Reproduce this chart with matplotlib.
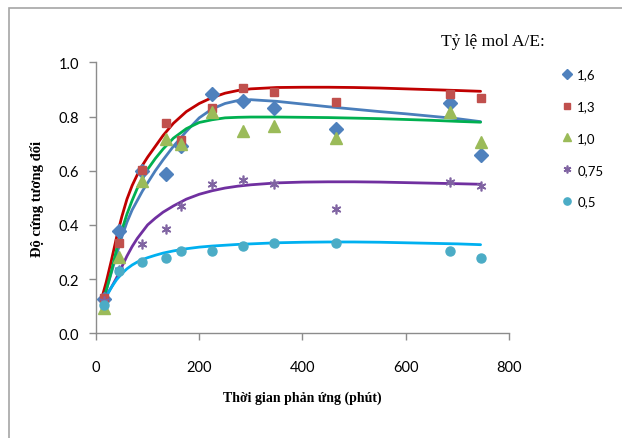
"""
Relative hardness vs reaction time for several A/E mol ratios,
scatter of measurements with smooth fitted curves (Excel style chart).
"""

import matplotlib
matplotlib.use('Agg')
import matplotlib.pyplot as plt
from matplotlib.patches import Rectangle

# --- measured points ---
t_meas = [15, 45, 90, 135, 165, 225, 285, 345, 465, 685, 745]

y_16 = [0.125, 0.379, 0.600, 0.588, 0.692, 0.883, 0.858, 0.830, 0.754, 0.849, 0.658]
y_13 = [0.130, 0.333, 0.604, 0.776, 0.714, 0.830, 0.904, 0.892, 0.855, 0.883, 0.867]
y_10 = [0.095, 0.280, 0.563, 0.717, 0.698, 0.815, 0.748, 0.764, 0.720, 0.815, 0.707]
y_075 = [0.120, 0.235, 0.330, 0.385, 0.471, 0.551, 0.567, 0.551, 0.459, 0.560, 0.542]
y_05 = [0.105, 0.231, 0.262, 0.277, 0.303, 0.303, 0.321, 0.332, 0.332, 0.303, 0.277]

# --- fitted curves ---
t_fit = [12, 20, 30, 40, 50, 60, 70, 80, 90, 100, 115, 130, 150, 175, 200, 225,
         250, 275, 300, 350, 400, 450, 500, 550, 600, 650, 700, 745]

fit_16 = [0.120, 0.160, 0.225, 0.290, 0.355, 0.410, 0.455, 0.490, 0.525, 0.555,
          0.600, 0.640, 0.690, 0.745, 0.795, 0.828, 0.848, 0.859, 0.862,
          0.856, 0.846, 0.836, 0.827, 0.818, 0.810, 0.801, 0.792, 0.781]
fit_13 = [0.135, 0.190, 0.270, 0.355, 0.430, 0.495, 0.545, 0.585, 0.620, 0.650,
          0.690, 0.730, 0.775, 0.818, 0.848, 0.870, 0.886, 0.896, 0.902,
          0.907, 0.908, 0.908, 0.907, 0.905, 0.902, 0.899, 0.896, 0.893]
fit_10 = [0.115, 0.160, 0.230, 0.310, 0.380, 0.440, 0.490, 0.535, 0.570, 0.605,
          0.645, 0.680, 0.720, 0.755, 0.778, 0.788, 0.795, 0.797, 0.798,
          0.798, 0.797, 0.796, 0.794, 0.792, 0.789, 0.786, 0.782, 0.779]
fit_075 = [0.120, 0.140, 0.170, 0.205, 0.245, 0.285, 0.320, 0.350, 0.375, 0.400,
           0.425, 0.447, 0.470, 0.495, 0.513, 0.526, 0.536, 0.543, 0.548,
           0.555, 0.558, 0.559, 0.559, 0.558, 0.556, 0.554, 0.552, 0.550]
fit_05 = [0.100, 0.135, 0.170, 0.198, 0.220, 0.238, 0.252, 0.263, 0.272, 0.279,
          0.288, 0.296, 0.304, 0.312, 0.318, 0.322, 0.325, 0.328, 0.330,
          0.334, 0.336, 0.337, 0.337, 0.336, 0.334, 0.332, 0.330, 0.327]

labels = ['1,6', '1,3', '1,0', '0,75', '0,5']
x_ticks = [0, 200, 400, 600, 800]
y_ticks = [0.0, 0.2, 0.4, 0.6, 0.8, 1.0]

SERIES = [
    # (points, curve, marker, marker size, marker colour, line colour)
    (y_16, fit_16, 'D', 7.0, '#4F81BD', '#4A7EBB'),
    (y_13, fit_13, 's', 6.0, '#C0504D', '#C00000'),
    (y_10, fit_10, '^', 8.0, '#9BBB59', '#00B050'),
    (y_075, fit_075, (6, 2, 0), 7.0, '#8064A2', '#7030A0'),
    (y_05, fit_05, 'o', 6.5, '#4BACC6', '#00B0F0'),
]

SANS = 'Lato'
SERIF = 'Liberation Serif'

fig = plt.figure(figsize=(6.22, 4.39), dpi=100)
ax = fig.add_axes([0.1543, 0.2385, 0.6640, 0.6173])

handles = []
for (pts, curve, mk, ms, mc, lc), lab in zip(SERIES, labels):
    ax.plot(t_fit, curve, color=lc, linewidth=2.0, zorder=2,
            solid_joinstyle='round', solid_capstyle='round')
    if mk == (6, 2, 0):
        h, = ax.plot(t_meas, pts, linestyle='none', marker=mk, markersize=ms,
                     markeredgecolor=mc, markeredgewidth=1.2, zorder=3, label=lab)
    else:
        h, = ax.plot(t_meas, pts, linestyle='none', marker=mk, markersize=ms,
                     markerfacecolor=mc, markeredgecolor=mc, zorder=3, label=lab)
    handles.append(h)

ax.set_xlim(0, 800)
ax.set_ylim(0, 1.0)
ax.set_xticks(x_ticks)
ax.set_yticks(y_ticks)
ax.set_yticklabels([f'{v:.1f}' for v in y_ticks])

for side in ['top', 'right']:
    ax.spines[side].set_visible(False)
for side in ['left', 'bottom']:
    ax.spines[side].set_color('#8C8C8C')
    ax.spines[side].set_linewidth(1.0)

ax.tick_params(axis='x', direction='out', length=5, width=1, color='#8C8C8C',
               pad=14, labelsize=10.5)
ax.tick_params(axis='y', direction='out', length=5, width=1, color='#8C8C8C',
               pad=7, labelsize=10.5)
for lbl in ax.get_xticklabels() + ax.get_yticklabels():
    lbl.set_fontfamily(SANS)

ax.set_xlabel('Thời gian phản ứng (phút)', fontfamily=SERIF, fontweight='bold',
              fontsize=10, labelpad=12)
ax.set_ylabel('Độ cứng tương đối', fontfamily=SERIF, fontweight='bold',
              fontsize=10.5, labelpad=11)

fig.text(0.793, 0.905, 'Tỷ lệ mol A/E:', fontfamily=SERIF, fontsize=12.5,
         ha='center', va='center')

leg = fig.legend(handles=handles, loc='upper left', bbox_to_anchor=(0.893, 0.857),
                 frameon=False, prop={'family': SANS, 'size': 9.5},
                 handlelength=0.8, handletextpad=0.35, labelspacing=1.5,
                 borderpad=0, markerscale=0.8)

# outer chart frame
fig.patches.append(Rectangle((9 / 622, -0.05), 1.2, 1 - 9 / 439 + 0.05,
                             transform=fig.transFigure, fill=False,
                             edgecolor='#A6A6A6', linewidth=1.2))

fig.savefig('out.png', dpi=100)
plt.close(fig)
